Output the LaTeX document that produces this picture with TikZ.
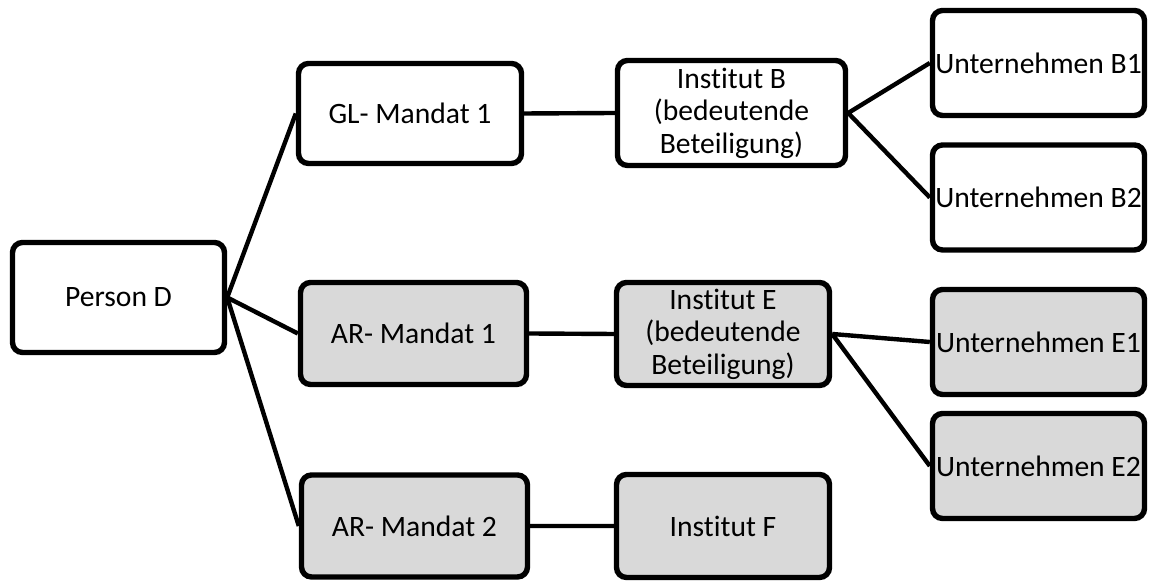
\documentclass[tikz,border=0pt]{standalone}
\usepackage{fontspec}
\setmainfont{Carlito}[Ligatures=NoCommon]
\definecolor{boxgray}{HTML}{D9D9D9}
\tikzset{
  box/.style={draw, line width=2.7pt, rounded corners=5pt, fill=white, align=center,
    inner sep=1pt, font=\fontsize{14.8}{16.3}\selectfont},
  grey/.style={box, fill=boxgray},
  link/.style={line width=2.2pt}
}
\begin{document}
\begin{tikzpicture}[x=0.5pt,y=-0.5pt]
\useasboundingbox (0,0) rectangle (1153,581);
% root
\node[box, minimum width=106pt, minimum height=55pt] (persD) at (118.5,297.5) {Person D};
% mandates
\node[box, minimum width=111.5pt, minimum height=50pt] (glM1) at (410,113.5) {GL- Mandat 1};
\node[grey, minimum width=113pt, minimum height=51pt] (arM1) at (413.5,333.5) {AR- Mandat 1};
\node[grey, minimum width=113pt, minimum height=51pt] (arM2) at (414.5,526) {AR- Mandat 2};
% institutes
\node[box, minimum width=114pt, minimum height=52.5pt] (instB) at (731.5,113) {Institut B\\(bedeutende\\Beteiligung)};
\node[grey, minimum width=106.5pt, minimum height=51.5pt] (instE) at (723,334) {Institut E\\(bedeutende\\Beteiligung)};
\node[grey, minimum width=106.5pt, minimum height=51.5pt] (instF) at (723,526) {Institut F};
% companies
\node[box, minimum width=106pt, minimum height=52.5pt] (untB1) at (1038.5,63) {Unternehmen B1};
\node[box, minimum width=106pt, minimum height=52.5pt] (untB2) at (1038.5,197.5) {Unternehmen B2};
\node[grey, minimum width=106pt, minimum height=52.5pt] (untE1) at (1038.5,342) {Unternehmen E1};
\node[grey, minimum width=106pt, minimum height=52.5pt] (untE2) at (1038.5,466) {Unternehmen E2};
% connectors
\draw[link] (persD.east) -- (glM1.west)
            (persD.east) -- (arM1.west)
            (persD.east) -- (arM2.west);
\draw[link] (glM1.east) -- (instB.west)
            (arM1.east) -- (instE.west)
            (arM2.east) -- (instF.west);
\draw[link] (instB.east) -- (untB1.west)
            (instB.east) -- (untB2.west)
            (instE.east) -- (untE1.west)
            (instE.east) -- (untE2.west);
\end{tikzpicture}
\end{document}
